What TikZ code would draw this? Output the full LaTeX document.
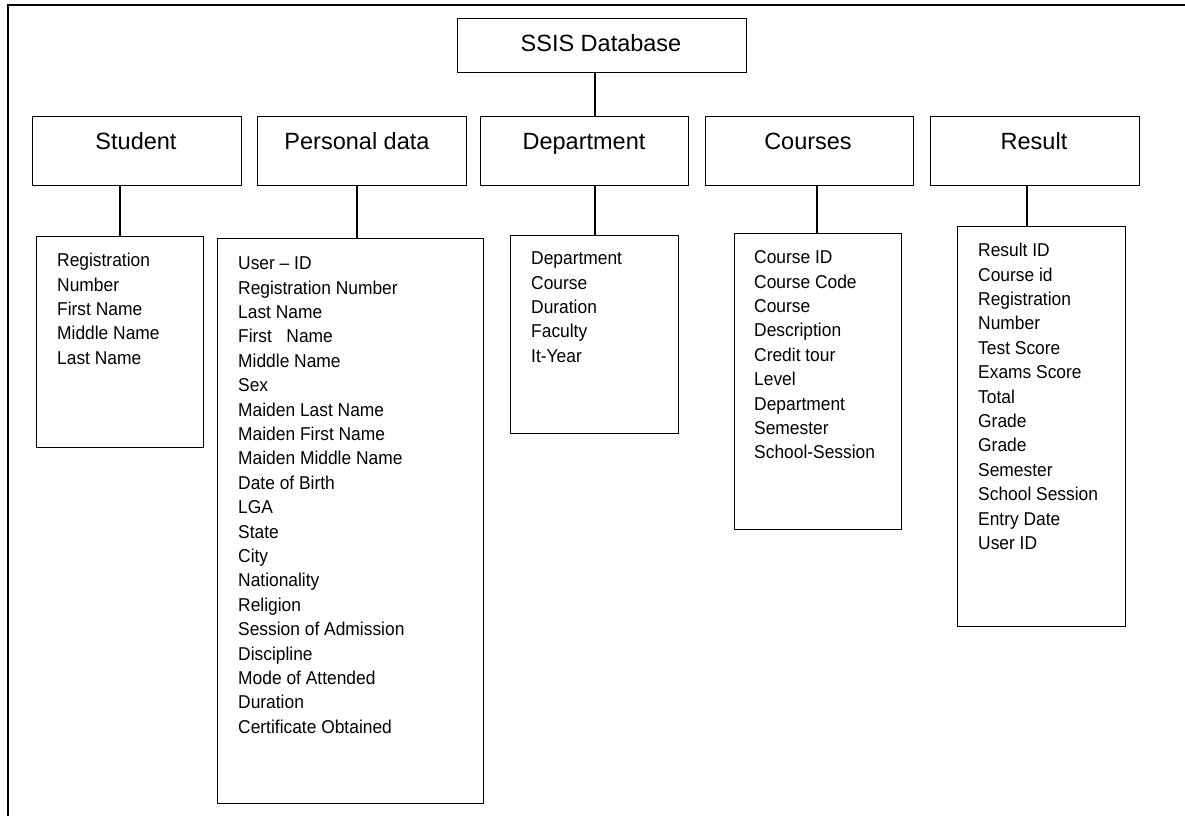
\documentclass[tikz,border=0pt]{standalone}
\usepackage{fontspec}
\setmainfont{Liberation Sans}
\newfontfamily\listfont[FakeStretch=0.935,Ligatures=TeX]{Liberation Sans}
\begin{document}
\begin{tikzpicture}[x=1pt,y=-1pt,
  box/.style={draw, line width=1.4pt, inner sep=0pt, anchor=north west},
  head/.style={font=\fontsize{23.5}{28}\selectfont, anchor=base, inner sep=0pt},
  list/.style={font=\listfont\fontsize{18.6}{24.4}\selectfont, align=left, anchor=north west, inner sep=0pt},
  link/.style={line width=1.3pt},
  frame/.style={line width=1.6pt}]
\useasboundingbox (0,0) rectangle (1185,816);
\fill[white] (0,0) rectangle (1185,816);
% frame (cropped at right and bottom)
\coordinate (fa) at (8,816);
\coordinate (fb) at (8,5);
\coordinate (fc) at (1185,5);
\draw[frame] (fa) -- (fb) -- (fc);

% top box
\node[box, minimum width=289pt, minimum height=54pt] (ssis) at (457,18) {};
\node[head] (ssist) at (601,52) {SSIS Database};

% row of entity boxes
\node[box, minimum width=209pt, minimum height=69pt] (student) at (32,116) {};
\node[box, minimum width=209pt, minimum height=69pt] (personal) at (257,116) {};
\node[box, minimum width=208pt, minimum height=69pt] (dept) at (480,116) {};
\node[box, minimum width=208pt, minimum height=69pt] (courses) at (705,116) {};
\node[box, minimum width=209pt, minimum height=69pt] (result) at (930,116) {};

\node[head] (studentt) at (136,149) {Student};
\node[head] (personalt) at (357,149) {Personal data};
\node[head] (deptt) at (584,149) {Department};
\node[head] (coursest) at (808,149) {Courses};
\node[head] (resultt) at (1034,149) {Result};

% attribute boxes
\node[box, minimum width=167pt, minimum height=211pt] (studentl) at (36,236) {};
\node[box, minimum width=266pt, minimum height=565pt] (personall) at (217,238) {};
\node[box, minimum width=168pt, minimum height=198pt] (deptl) at (510,235) {};
\node[box, minimum width=167pt, minimum height=296pt] (coursesl) at (734,233) {};
\node[box, minimum width=168pt, minimum height=400pt] (resultl) at (957,226) {};

\node[list] (studenttx) at (57,252.5) {\rule{0pt}{14pt}Registration\\Number\\First Name\\Middle Name\\Last Name};
\node[list] (personaltx) at (238,255.5) {\rule{0pt}{14pt}User – ID\\Registration Number\\Last Name\\First\ \ \ Name\\Middle Name\\Sex\\Maiden Last Name\\Maiden First Name\\Maiden Middle Name\\Date of Birth\\LGA\\State\\City\\Nationality\\Religion\\Session of Admission\\Discipline\\Mode of Attended\\Duration\\Certificate Obtained};
\node[list] (depttx) at (531,250.5) {\rule{0pt}{14pt}Department\\Course\\Duration\\Faculty\\It-Year};
\node[list] (coursestx) at (754,249.5) {\rule{0pt}{14pt}Course ID\\Course Code\\Course\\Description\\Credit tour\\Level\\Department\\Semester\\School-Session};
\node[list] (resulttx) at (978,242.5) {\rule{0pt}{14pt}Result ID\\Course id\\Registration\\Number\\Test Score\\Exams Score\\Total\\Grade\\Grade\\Semester\\School Session\\Entry Date\\User ID};

% connectors
\draw[link] (ssis.south -| 595,0) -- (dept.north -| 595,0);
\draw[link] (student.south -| 120,0) -- (studentl.north -| 120,0);
\draw[link] (personal.south -| 357,0) -- (personall.north -| 357,0);
\draw[link] (dept.south -| 595,0) -- (deptl.north -| 595,0);
\draw[link] (courses.south -| 817,0) -- (coursesl.north -| 817,0);
\draw[link] (result.south -| 1027,0) -- (resultl.north -| 1027,0);
\end{tikzpicture}
\end{document}
